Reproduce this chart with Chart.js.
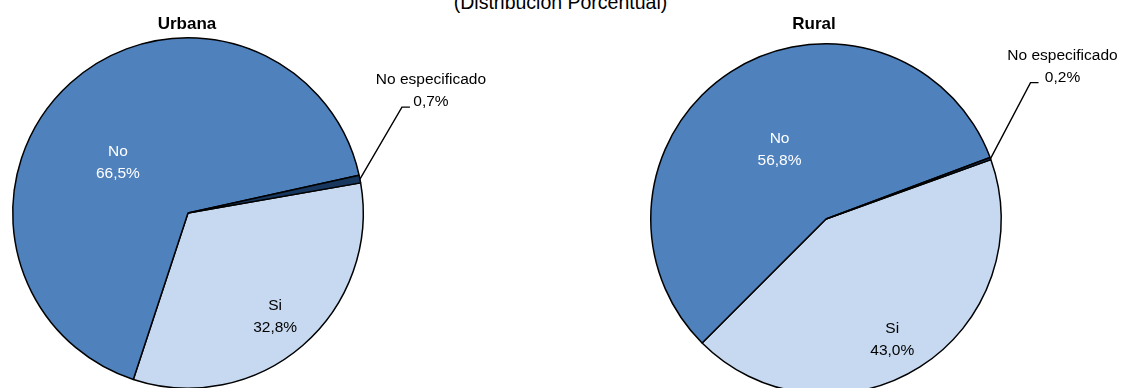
<!DOCTYPE html>
<html>
<head>
<meta charset="utf-8">
<script src="https://cdn.jsdelivr.net/npm/chart.js@4.4.1/dist/chart.umd.min.js"></script>
<style>
  html, body { margin: 0; padding: 0; width: 1121px; height: 388px; overflow: hidden; background: #fff; }
  #wrap { position: relative; width: 1121px; height: 388px; overflow: hidden; }
  canvas { position: absolute; }
  #main { position: absolute; left: 0; width: 1121px; top: -10px; text-align: center;
          font-family: "Liberation Sans", Arial, sans-serif; font-size: 19.5px; color: #000; line-height: 24px; }
</style>
</head>
<body>
<div id="wrap">
  <div id="main">(Distribución Porcentual)</div>
  <canvas id="c1" width="560" height="400" style="left:0;top:0;width:560px;height:400px"></canvas>
  <canvas id="c2" width="561" height="400" style="left:560px;top:0;width:561px;height:400px"></canvas>
</div>
<script>
// ---- data ----
const categories = ["Si", "No", "No especificado"];
const urbanaValues = [32.8, 66.5, 0.7];
const ruralValues = [43.0, 56.8, 0.2];
const urbanaLabels = ["32,8%", "66,5%", "0,7%"];
const ruralLabels = ["43,0%", "56,8%", "0,2%"];
const chartTitles = ["Urbana", "Rural"];

const sliceColors = ["#C6D9F1", "#4F81BD", "#17375E"];
const textColors = ["#000000", "#FFFFFF", "#000000"];
const FONT = '"Liberation Sans", Arial, sans-serif';

const labelPlugin = {
  id: 'pieLabels',
  afterDatasetsDraw(chart, args, opts) {
    const ctx = chart.ctx;
    const meta = chart.getDatasetMeta(0);
    const arcs = meta.data;
    const cx = arcs[0].x, cy = arcs[0].y, R = arcs[0].outerRadius;
    ctx.save();
    ctx.font = 'bold 17px ' + FONT;
    ctx.fillStyle = '#000';
    ctx.textAlign = 'center';
    ctx.textBaseline = 'alphabetic';
    ctx.fillText(opts.title, cx + opts.titleDx, 29);
    ctx.font = '15.5px ' + FONT;
    arcs.forEach((arc, i) => {
      const cat = chart.data.labels[i];
      const txt = opts.values[i];
      const mid = (arc.startAngle + arc.endAngle) / 2;
      if (i < 2) {
        const a = mid + (opts.angleShift[i] || 0) * Math.PI / 180;
        const r = R * opts.radial[i];
        const x = cx + Math.cos(a) * r, y = cy + Math.sin(a) * r;
        ctx.fillStyle = textColors[i];
        ctx.fillText(cat, x, y - 4);
        ctx.fillText(txt, x, y + 18);
      } else {
        const ex = cx + Math.cos(mid) * R, ey = cy + Math.sin(mid) * R;
        const elbowX = ex + opts.leader[0], elbowY = ey + opts.leader[1];
        ctx.strokeStyle = '#000';
        ctx.lineWidth = 1.4;
        ctx.beginPath();
        ctx.moveTo(ex, ey);
        ctx.lineTo(elbowX, elbowY);
        ctx.lineTo(elbowX + 8, elbowY);
        ctx.stroke();
        ctx.fillStyle = '#000';
        ctx.textAlign = 'center';
        ctx.fillText(cat, elbowX + opts.textDx, elbowY - 23);
        ctx.fillText(txt, elbowX + opts.textDx, elbowY - 1);
      }
    });
    ctx.restore();
  }
};

function makePie(id, values, labels, title, rotation, padding, extra) {
  return new Chart(document.getElementById(id), {
    type: 'pie',
    data: {
      labels: categories,
      datasets: [{
        data: values,
        backgroundColor: sliceColors,
        borderColor: '#000000',
        borderWidth: 1.5,
        hoverOffset: 0,
        offset: 0
      }]
    },
    options: {
      responsive: false,
      animation: false,
      rotation: rotation,
      layout: { padding: padding },
      events: [],
      plugins: {
        legend: { display: false },
        tooltip: { enabled: false },
        title: { display: false },
        pieLabels: Object.assign({ title: title, values: labels }, extra)
      }
    },
    plugins: [labelPlugin]
  });
}

makePie('c1', urbanaValues, urbanaLabels, chartTitles[0], 80.1,
  { left: 12, right: 196, top: 37, bottom: 11 },
  { titleDx: -1, radial: [0.76, 0.5], angleShift: [0, -11], leader: [42, -72], textDx: 29 });

makePie('c2', ruralValues, ruralLabels, chartTitles[1], 70.2,
  { left: 90, right: 119, top: 43, bottom: 5 },
  { titleDx: -12, radial: [0.77, 0.49], angleShift: [3, 0], leader: [40, -76], textDx: 32 });
</script>
</body>
</html>
